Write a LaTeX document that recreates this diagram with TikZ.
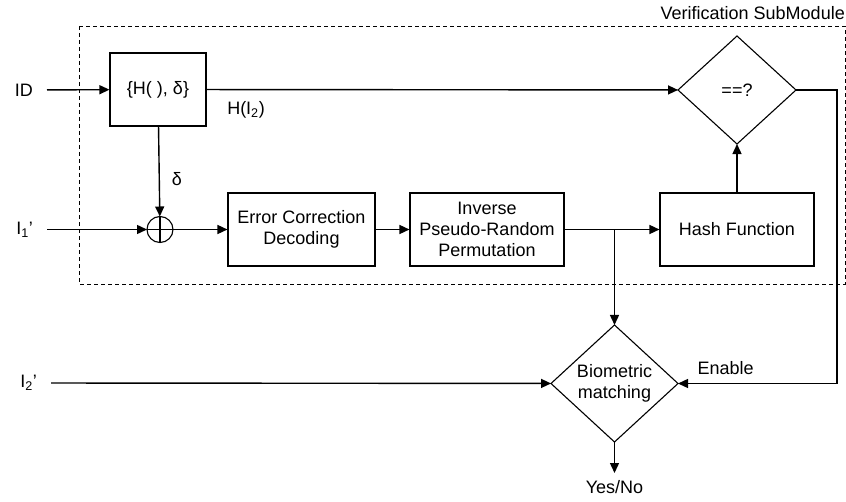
\documentclass[tikz,border=0pt]{standalone}
\usepackage{fontspec}
\setmainfont{Liberation Sans}
\usetikzlibrary{shapes.geometric,arrows.meta}

\begin{document}
\begin{tikzpicture}[x=1bp,y=1bp,
  block/.style={draw, line width=1.1bp, align=center, minimum height=73bp},
  decision/.style={draw, diamond, line width=1.1bp, outer sep=0pt, align=center},
  inlabel/.style={anchor=east, inner sep=14bp},
  arr/.style={line width=1.4bp, -{Triangle[length=10bp,width=9bp]}}]
\tikzstyle{every node}+=[inner sep=0pt, font=\fontsize{18bp}{21bp}\selectfont]
\useasboundingbox (0,0) rectangle (846,-502);
% sub module frame
\draw [dash pattern=on 4bp off 3bp, line width=0.8bp] (79,-26) rectangle (845,-284);
\node [anchor=east] (submod) at (845,-13) {Verification SubModule};
% blocks
\node [block, minimum width=96bp] (hdelta) at (158,-89.5) {\{H( ), δ\}};
\node [decision, minimum width=118bp, minimum height=108bp] (eq) at (737,-90) {==?};
\node [draw, circle, line width=1.1bp, minimum size=26bp, outer sep=0pt] (xor) at (160,-229.5) {};
\draw [line width=1.1bp] (xor.north) -- (xor.south) (xor.west) -- (xor.east);
\node [block, minimum width=147bp] (ecd) at (301.5,-229.5) {Error Correction\\Decoding};
\node [block, minimum width=154bp] (iprp) at (487,-229.5) {Inverse\\Pseudo-Random\\Permutation};
\node [block, minimum width=154bp] (hash) at (737,-229.5) {Hash Function};
\node [decision, minimum width=127bp, minimum height=117bp] (bm) at (614.5,-383.5) {Biometric\\matching};
% inputs and outputs
\node [inlabel] (id) at (47,-90) {ID};
\node [inlabel] (ione) at (47,-229.5) {I\textsubscript{1}’};
\node [inlabel] (itwo) at (51,-383) {I\textsubscript{2}’};
\node [anchor=north, inner sep=7bp] (yesno) at (614.5,-473) {Yes/No};
\coordinate (turn) at (837,-90);
% connectors
\draw [arr] (id) -- (hdelta);
\draw [arr] (hdelta) -- (eq);
\draw (246,-110) node {H(I\textsubscript{2})};
\draw [arr] (hdelta) -- node [pos=0.58, right=12bp] {δ} (xor);
\draw [arr] (ione) -- (xor);
\draw [arr] (xor) -- (ecd);
\draw [arr] (ecd) -- (iprp);
\draw [arr] (iprp) -- (hash);
\draw [arr] (hash) -- (eq);
\draw [arr] (iprp.east -| bm.north) -- (bm.north);
\draw [arr] (eq.east) -- (turn) |- node [pos=0.85, above=8bp] {Enable} (bm.east);
\draw [arr] (itwo) -- (bm);
\draw [arr] (bm) -- (yesno);
\end{tikzpicture}
\end{document}
